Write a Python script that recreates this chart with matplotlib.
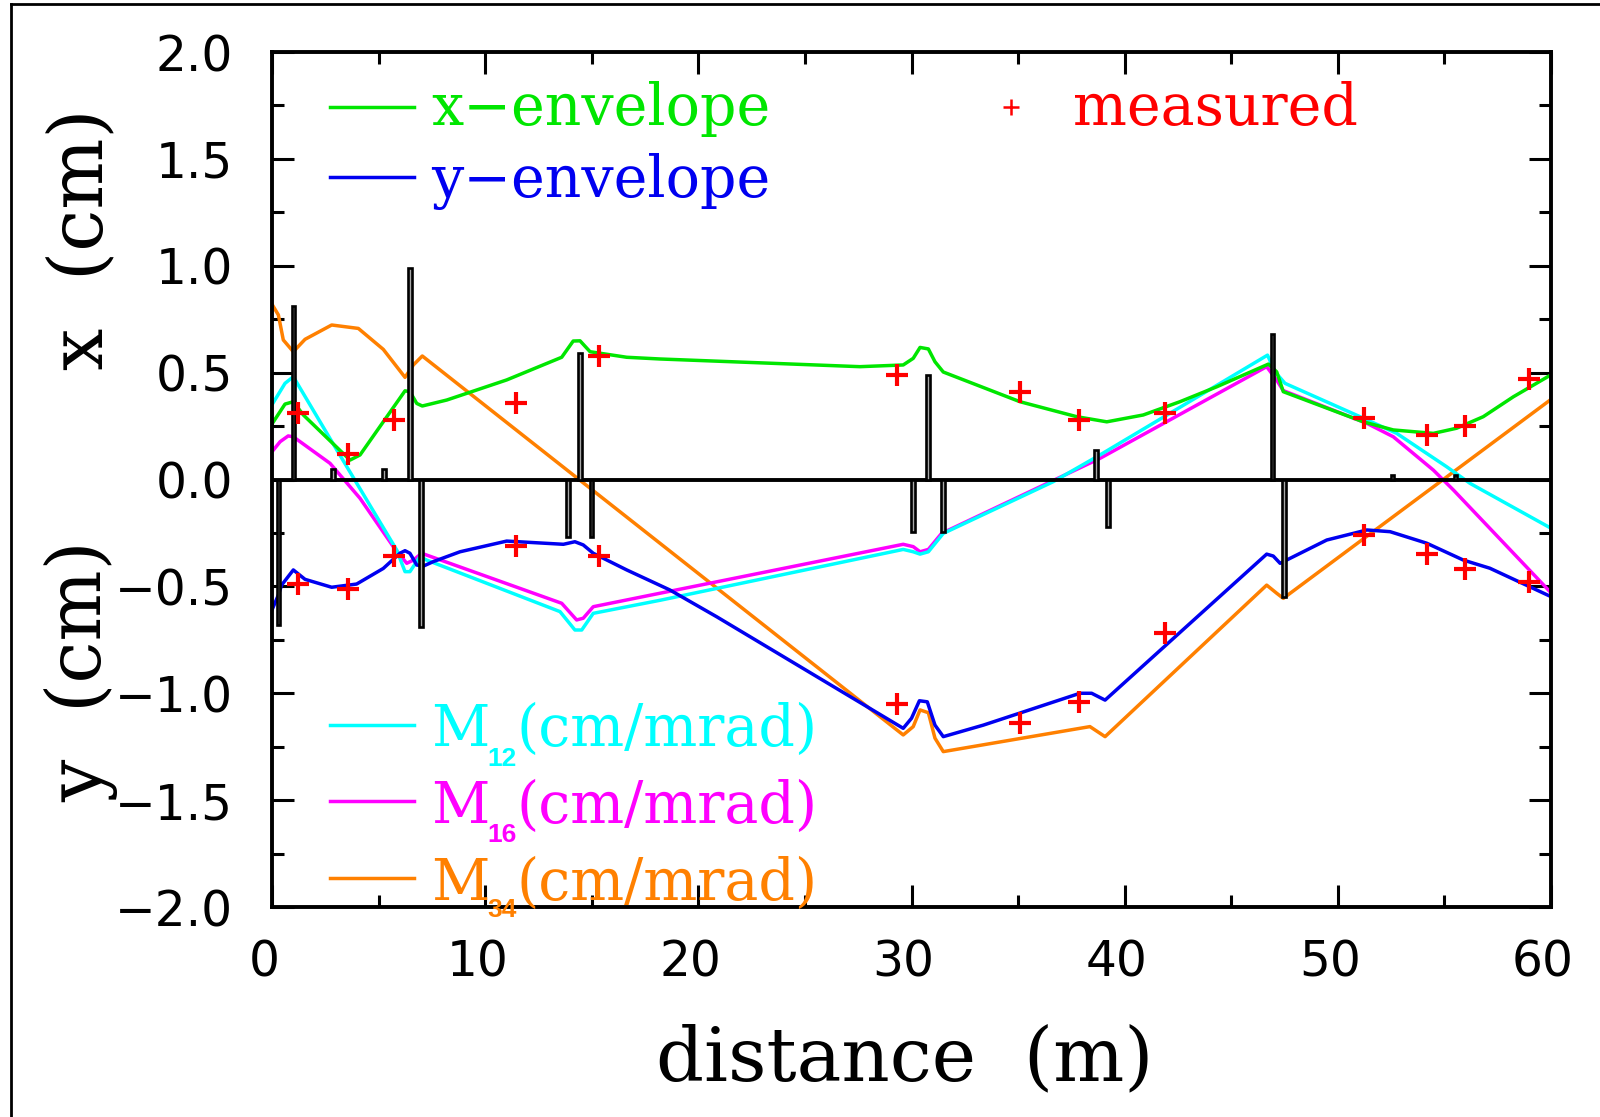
import matplotlib
matplotlib.use('Agg')
import matplotlib.pyplot as plt
import matplotlib.transforms as mtransforms
from matplotlib.ticker import MultipleLocator, FuncFormatter
from matplotlib.lines import Line2D

#%% data
# x-envelope (cm)
s_xenv = [0.0, 0.61, 1.0, 1.47, 3.66, 4.13, 6.24, 6.47, 6.79, 7.05, 8.2, 11.01, 13.59,
          14.13, 14.45, 14.92, 16.64, 18.2, 27.58, 29.61, 30.08, 30.4, 30.79, 31.1, 31.49,
          35.09, 37.75, 39.16, 40.87, 42.59, 44.32, 46.74, 47.13, 47.44, 51.19, 52.6,
          54.48, 55.57, 56.82, 58.23, 60.0]
x_env = [0.26, 0.353, 0.364, 0.302, 0.091, 0.115, 0.415, 0.411, 0.356, 0.344, 0.372, 0.466,
         0.572, 0.648, 0.649, 0.598, 0.572, 0.564, 0.528, 0.536, 0.567, 0.618, 0.611, 0.551,
         0.503, 0.364, 0.294, 0.27, 0.302, 0.364, 0.434, 0.54, 0.504, 0.411, 0.27, 0.232,
         0.216, 0.24, 0.294, 0.387, 0.49]

# y-envelope (cm)
s_yenv = [0.0, 0.3, 0.45, 1.0, 1.55, 2.8, 3.97, 5.22, 6.0, 6.24, 6.47, 6.79, 7.1, 7.57, 8.82,
          11.01, 13.67, 14.21, 14.6, 15.07, 16.64, 18.67, 20.86, 29.61, 30.0, 30.37, 30.74,
          31.1, 31.49, 33.37, 37.9, 38.45, 39.08, 46.66, 46.97, 47.29, 49.48, 51.36, 52.45,
          54.17, 55.89, 57.13, 60.0]
y_env = [-0.61, -0.54, -0.494, -0.423, -0.467, -0.504, -0.489, -0.416, -0.345, -0.333, -0.345,
         -0.4, -0.405, -0.384, -0.338, -0.288, -0.303, -0.291, -0.306, -0.345, -0.423, -0.517,
         -0.642, -1.164, -1.117, -1.035, -1.04, -1.149, -1.203, -1.149, -1.0, -1.0, -1.032,
         -0.349, -0.358, -0.392, -0.283, -0.236, -0.244, -0.298, -0.377, -0.415, -0.548]

# M12 (cm/mrad)
s_m12 = [0.0, 0.61, 1.0, 3.03, 3.66, 5.85, 6.24, 6.47, 6.94, 7.26, 13.51, 14.21, 14.53, 15.07,
         18.2, 29.61, 30.08, 30.4, 30.79, 31.49, 36.65, 38.84, 46.7, 47.05, 47.52, 51.04,
         52.76, 55.1, 56.2, 60.0]
m12 = [0.35, 0.45, 0.481, 0.14, 0.035, -0.33, -0.431, -0.431, -0.361, -0.377, -0.618, -0.704,
       -0.704, -0.626, -0.565, -0.327, -0.338, -0.349, -0.338, -0.252, -0.01, 0.115, 0.582,
       0.504, 0.45, 0.294, 0.216, 0.06, -0.018, -0.228]

# M16 (cm/mrad)
s_m16 = [0.0, 0.38, 0.76, 1.0, 2.72, 4.13, 5.69, 6.32, 6.63, 7.02, 13.59, 14.29, 14.6, 15.07,
         18.2, 29.61, 30.08, 30.4, 30.79, 31.41, 38.84, 46.66, 47.13, 47.44, 51.36, 52.6,
         54.48, 55.42, 60.0]
m16 = [0.13, 0.177, 0.204, 0.2, 0.076, -0.088, -0.314, -0.392, -0.377, -0.345, -0.579, -0.657,
       -0.649, -0.595, -0.532, -0.303, -0.314, -0.338, -0.327, -0.252, 0.099, 0.528, 0.465,
       0.416, 0.263, 0.2, 0.044, -0.049, -0.53]

# M34 (cm/mrad)
s_m34 = [0.0, 0.3, 0.53, 1.0, 1.55, 2.8, 4.05, 5.22, 6.24, 6.63, 7.05, 29.61, 30.08, 30.4,
         30.79, 31.1, 31.49, 37.9, 38.37, 39.08, 46.66, 47.13, 47.44, 60.0]
m34 = [0.82, 0.77, 0.653, 0.598, 0.656, 0.723, 0.707, 0.609, 0.478, 0.536, 0.578, -1.195,
       -1.156, -1.078, -1.091, -1.21, -1.273, -1.164, -1.156, -1.203, -0.494, -0.532, -0.556,
       0.375]

# measured beam sizes
s_meas = [1.21, 3.58, 5.74, 11.45, 15.35, 29.32, 35.1, 37.86, 41.88, 51.24, 54.2, 55.95, 58.95]
x_meas = [0.31, 0.12, 0.28, 0.36, 0.58, 0.49, 0.41, 0.28, 0.31, 0.29, 0.21, 0.25, 0.47]
y_meas = [-0.49, -0.51, -0.36, -0.31, -0.36, -1.05, -1.14, -1.04, -0.72, -0.26, -0.35, -0.42,
          -0.48]

# magnet positions and strengths (drawn as bars)
s_mag = [0.31, 1.0, 2.86, 5.25, 6.47, 6.99, 13.89, 14.45, 14.98, 30.06, 30.76, 31.48, 38.64,
         39.21, 46.93, 47.47, 52.57, 55.51]
h_mag = [-0.68, 0.81, 0.05, 0.05, 0.99, -0.69, -0.27, 0.59, -0.27, -0.245, 0.49, -0.245, 0.14,
         -0.22, 0.68, -0.55, 0.02, 0.02]

#%% styles
c_x = '#00e600'
c_y = '#0000f0'
c_m12 = '#00ffff'
c_m16 = '#ff00ff'
c_m34 = '#ff8000'
c_meas = '#ff0000'
serif = 'DejaVu Serif'

plt.rcParams['font.family'] = ['DejaVu Sans']

fig = plt.figure(figsize=(16, 11.17), dpi=100)
ax = fig.add_axes([0.170, 0.188, 0.7994, 0.7654])

lw = 2.5
ax.plot(s_m34, m34, color=c_m34, lw=lw, zorder=2)
ax.plot(s_m16, m16, color=c_m16, lw=lw, zorder=2)
ax.plot(s_m12, m12, color=c_m12, lw=lw, zorder=2)
ax.plot(s_xenv, x_env, color=c_x, lw=lw, zorder=2)
ax.plot(s_yenv, y_env, color=c_y, lw=lw, zorder=2)

ax.axhline(0, color='k', lw=2.8, zorder=3)
ax.bar(s_mag, h_mag, width=0.17, color='#a8a8a8', edgecolor='k', linewidth=1.9, zorder=4)

ax.plot(s_meas, x_meas, '+', color=c_meas, ms=16, mew=3, zorder=5)
ax.plot(s_meas, y_meas, '+', color=c_meas, ms=16, mew=3, zorder=5)

ax.set_xlim(0, 60)
ax.set_ylim(-2, 2)

ax.xaxis.set_major_locator(MultipleLocator(10))
ax.xaxis.set_minor_locator(MultipleLocator(5))
ax.yaxis.set_major_locator(MultipleLocator(0.5))
ax.yaxis.set_minor_locator(MultipleLocator(0.25))
ax.yaxis.set_major_formatter(FuncFormatter(lambda v, p: f'{v:.1f}'.replace('-', '\u2212')))
ax.xaxis.set_major_formatter(FuncFormatter(lambda v, p: f'{v:.0f}'))

ax.tick_params(which='both', direction='in', top=True, right=True, width=2.2, labelsize=35)
ax.tick_params(which='major', length=16)
ax.tick_params(which='minor', length=8.5)
ax.tick_params(axis='y', pad=28)
ax.tick_params(axis='x', pad=23)
for sp in ax.spines.values():
    sp.set_linewidth(2.8)

shift = mtransforms.ScaledTranslation(-8 / 100, 0, fig.dpi_scale_trans)
for lab in ax.get_xticklabels():
    lab.set_transform(lab.get_transform() + shift)

#%% legends (layout in axes fraction)
tr = ax.transAxes
fs_leg = 41
upper_rows = [
    ('x\u2212envelope', c_x, 0.936, 0.9146),
    ('y\u2212envelope', c_y, 0.8536, 0.8308),
]
for label, col, yline, ybase in upper_rows:
    ax.plot([0.0457, 0.1113], [yline, yline], color=col, lw=lw, transform=tr)
    ax.text(0.1245, ybase, label, color=col, family=serif, size=fs_leg,
            ha='left', va='baseline', transform=tr)

lower_rows = [
    ('12', c_m12, 0.2133, 0.1883, 0.1736),
    ('16', c_m16, 0.1235, 0.0984, 0.0839),
    ('34', c_m34, 0.0337, 0.0087, -0.0039),
]
for sub, col, yline, ybase, ysub in lower_rows:
    ax.plot([0.0457, 0.1113], [yline, yline], color=col, lw=lw, transform=tr)
    ax.text(0.1245, ybase, 'M', color=col, family=serif, size=fs_leg,
            ha='left', va='baseline', transform=tr)
    ax.text(0.1795, ysub, sub, color=col, family='Liberation Sans', weight='bold',
            size=19, ha='center', va='center', transform=tr)
    ax.text(0.1910, ybase, '(cm/mrad)', color=col, family=serif, size=fs_leg,
            ha='left', va='baseline', transform=tr)

ax.plot([0.578], [0.936], '+', color=c_meas, ms=11, mew=1.8, transform=tr)
ax.text(0.6265, 0.9146, 'measured', color=c_meas, family=serif, size=fs_leg,
        ha='left', va='baseline', transform=tr)

#%% axis titles
fig.text(0.051, 0.786, 'x  (cm)', rotation=90, ha='center', va='center', family=serif,
         size=54)
fig.text(0.051, 0.3993, 'y  (cm)', rotation=90, ha='center', va='center', family=serif,
         size=54)
fig.text(0.5656, 0.0331, 'distance  (m)', ha='center', va='baseline', family=serif,
         size=54)

# frame lines on the left and top of the page
fig.add_artist(Line2D([0.0069, 0.0069], [0.0, 0.9964], transform=fig.transFigure,
                      color='k', lw=2))
fig.add_artist(Line2D([0.0069, 1.0], [0.9964, 0.9964], transform=fig.transFigure,
                      color='k', lw=2))

plt.savefig('out.png', dpi=100)
